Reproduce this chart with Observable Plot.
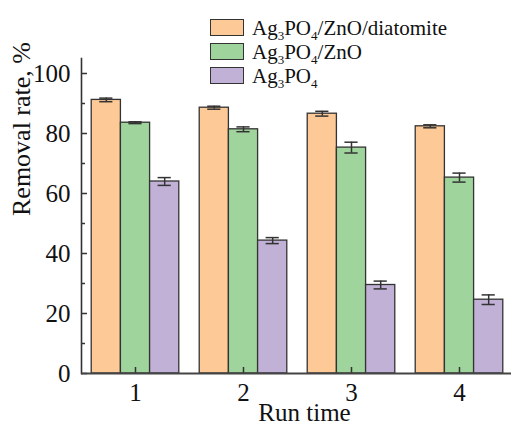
<!DOCTYPE html>
<html>
<head>
<meta charset="utf-8">
<script src="https://cdn.jsdelivr.net/npm/d3@7"></script>
<script src="https://cdn.jsdelivr.net/npm/@observablehq/plot@0.6"></script>
<style>
  html, body { margin: 0; padding: 0; background: #fff; overflow: hidden; }
  #wrap { position: relative; width: 511px; height: 426px; font-family: "Liberation Serif", "Times New Roman", serif; }
  #legend { position: absolute; left: 210px; top: 15px; font-size: 21px; color: #111; }
  .row { display: flex; align-items: center; height: 24px; }
  .sw { width: 32px; height: 15px; border: 1.3px solid #333; margin-right: 8px; box-sizing: content-box; }
  .row span.t { line-height: 1; position: relative; top: 1px; }
  sub { font-size: 0.62em; vertical-align: -0.35em; line-height: 0; }
</style>
</head>
<body>
<div id="wrap"><div id="legend"></div></div>
<script>
const runs = ["1", "2", "3", "4"];
const series = ["Ag3PO4/ZnO/diatomite", "Ag3PO4/ZnO", "Ag3PO4"];
const seriesHtml = ["Ag<sub>3</sub>PO<sub>4</sub>/ZnO/diatomite", "Ag<sub>3</sub>PO<sub>4</sub>/ZnO", "Ag<sub>3</sub>PO<sub>4</sub>"];
const colors = ["#fdc996", "#9fd49d", "#c1b1d6"];
const compositeValues = [91.2, 88.6, 86.6, 82.4];
const compositeErrors = [0.6, 0.5, 0.8, 0.5];
const agZnoValues = [83.6, 81.4, 75.3, 65.3];
const agZnoErrors = [0.3, 0.8, 1.8, 1.5];
const agValues = [64.0, 44.3, 29.5, 24.6];
const agErrors = [1.3, 1.0, 1.3, 1.6];
const yMajorTicks = [0, 20, 40, 60, 80, 100];
const yMinorTicks = [10, 30, 50, 70, 90];

const valueSets = [compositeValues, agZnoValues, agValues];
const errorSets = [compositeErrors, agZnoErrors, agErrors];
const data = [];
runs.forEach((r, i) => {
  series.forEach((s, j) => {
    data.push({run: r, series: s, value: valueSets[j][i], err: errorSets[j][i]});
  });
});
const font = "Liberation Serif";
const chart = Plot.plot({
  width: 511,
  height: 426,
  marginLeft: 81,
  marginRight: -2,
  marginTop: 58,
  marginBottom: 53,
  style: {fontFamily: font, fontSize: "25px", color: "#111", background: "transparent"},
  fx: {domain: runs, padding: 0, round: false, label: null, axis: null},
  x: {domain: series, paddingInner: 0, paddingOuter: 0.35, round: false, axis: null},
  y: {domain: [0, 105], axis: null},
  color: {domain: series, range: colors},
  marks: [
    Plot.barY(data, {fx: "run", x: "series", y: "value", fill: "series", stroke: "#333", strokeWidth: 1.3}),
    Plot.ruleX(data, {fx: "run", x: "series", y1: d => d.value - d.err, y2: d => d.value + d.err, stroke: "#333", strokeWidth: 1.5}),
    Plot.tickY(data, {fx: "run", x: "series", y: d => d.value - d.err, stroke: "#333", strokeWidth: 1.5, insetLeft: 8, insetRight: 8}),
    Plot.tickY(data, {fx: "run", x: "series", y: d => d.value + d.err, stroke: "#333", strokeWidth: 1.5, insetLeft: 8, insetRight: 8}),
    Plot.axisY({ticks: yMajorTicks, tickSize: -6, tickPadding: 17, label: null, stroke: "#333", strokeWidth: 1.5, fontFamily: font, fontSize: 25}),
    Plot.axisY({ticks: yMinorTicks, tickSize: -4, tickFormat: () => "", label: null, stroke: "#333", strokeWidth: 1.5}),
    Plot.axisFx({anchor: "bottom", tickSize: -6, tickPadding: 16, label: null, stroke: "#333", strokeWidth: 1.5, fontFamily: font, fontSize: 25}),
    Plot.frame({anchor: "left", facetAnchor: "left", stroke: "#333", strokeWidth: 1.6}),
    Plot.ruleY([0], {stroke: "#444", strokeWidth: 2}),
    Plot.text(["Run time"], {frameAnchor: "bottom", facet: "super", lineAnchor: "bottom", dy: 47, dx: 7, fontSize: 25, fontFamily: font, fill: "#111"}),
    Plot.text(["Removal rate, %"], {frameAnchor: "left", facet: "super", rotate: -90, lineAnchor: "middle", dx: -60, fontSize: 26, fontFamily: font, fill: "#111"})
  ]
});
document.getElementById("wrap").prepend(chart);

const legend = document.getElementById("legend");
series.forEach((s, j) => {
  const row = document.createElement("div");
  row.className = "row";
  row.innerHTML = `<div class="sw" style="background:${colors[j]}"></div><span class="t">${seriesHtml[j]}</span>`;
  legend.appendChild(row);
});
</script>
</body>
</html>
